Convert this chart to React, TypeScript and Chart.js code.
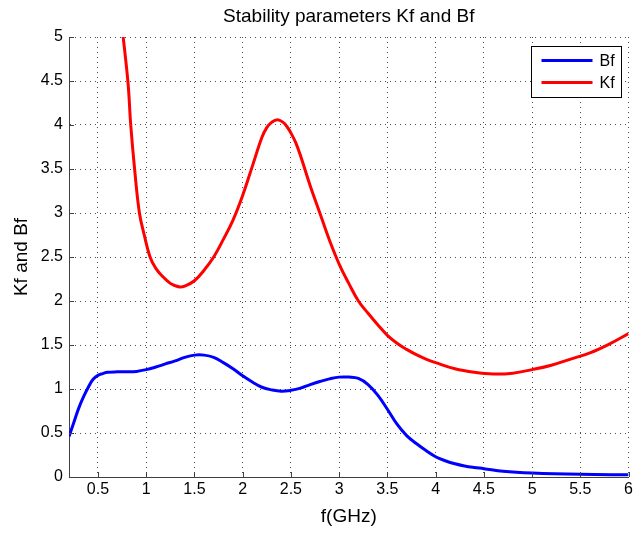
import React, { useEffect, useRef } from "react";
import { Chart, registerables } from "chart.js";

Chart.register(...registerables);

const chartTitle = "Stability parameters Kf and Bf";
const xAxisLabel = "f(GHz)";
const yAxisLabel = "Kf and Bf";
const xTicks = [0.5, 1, 1.5, 2, 2.5, 3, 3.5, 4, 4.5, 5, 5.5, 6];
const yTicks = [0, 0.5, 1, 1.5, 2, 2.5, 3, 3.5, 4, 4.5, 5];
const xMin = 0.2;
const xMax = 6;
const yMin = 0;
const yMax = 5;

const bfLabel = "Bf";
const bfFreq = [
  0.2, 0.25, 0.3, 0.35, 0.4, 0.45, 0.5, 0.55, 0.6, 0.7, 0.8, 0.9, 1.0, 1.1, 1.2, 1.3, 1.4, 1.5, 1.6,
  1.7, 1.8, 1.9, 2.0, 2.1, 2.2, 2.3, 2.4, 2.5, 2.6, 2.7, 2.8, 2.9, 3.0, 3.1, 3.2, 3.3, 3.4, 3.5, 3.6,
  3.7, 3.8, 3.9, 4.0, 4.1, 4.2, 4.3, 4.4, 4.5, 4.7, 5.0, 5.5, 6.0,
];
const bfValues = [
  0.46, 0.62, 0.78, 0.91, 1.02, 1.11, 1.155, 1.175, 1.19, 1.195, 1.195, 1.2, 1.22, 1.25, 1.285, 1.32,
  1.36, 1.385, 1.385, 1.36, 1.3, 1.23, 1.15, 1.08, 1.02, 0.99, 0.975, 0.985, 1.01, 1.05, 1.085, 1.115,
  1.135, 1.135, 1.12, 1.05, 0.93, 0.77, 0.6, 0.47, 0.38, 0.3, 0.23, 0.185, 0.15, 0.125, 0.108, 0.095,
  0.065, 0.045, 0.03, 0.025,
];

const kfLabel = "Kf";
const kfFreq = [
  0.73, 0.81, 0.84, 0.88, 0.93, 0.98, 1.04, 1.1, 1.17, 1.25, 1.3, 1.35, 1.4, 1.5, 1.6, 1.7, 1.8, 1.9,
  2.0, 2.1, 2.2, 2.25, 2.3, 2.36, 2.42, 2.46, 2.5, 2.55, 2.6, 2.7, 2.8, 2.9, 3.0, 3.1, 3.2, 3.3, 3.4,
  3.5, 3.6, 3.7, 3.8, 3.9, 4.0, 4.2, 4.4, 4.6, 4.8, 5.0, 5.2, 5.4, 5.6, 5.8, 6.0,
];
const kfValues = [
  5.3, 4.5, 4.0, 3.5, 3.0, 2.75, 2.5, 2.37, 2.28, 2.2, 2.175, 2.16, 2.17, 2.23, 2.35, 2.5, 2.7, 2.92,
  3.2, 3.53, 3.86, 3.97, 4.03, 4.06, 4.03, 3.98, 3.91, 3.8, 3.65, 3.31, 3.0, 2.69, 2.42, 2.2, 2.0, 1.86,
  1.73, 1.61, 1.52, 1.45, 1.39, 1.34, 1.3, 1.23, 1.19, 1.17, 1.18, 1.22, 1.27, 1.34, 1.41, 1.51, 1.63,
];

const FONT = '"Liberation Sans", Arial, Helvetica, sans-serif';

const decorPlugin = {
  id: "decor",
  afterDraw(chart: any) {
    const ctx = chart.ctx as CanvasRenderingContext2D;
    const area = chart.chartArea;
    const xs = chart.scales.x;
    const ys = chart.scales.y;
    ctx.save();
    // inward tick marks
    ctx.strokeStyle = "#404040";
    ctx.lineWidth = 1;
    ctx.beginPath();
    xTicks.forEach((v) => {
      const px = Math.round(xs.getPixelForValue(v)) + 0.5;
      ctx.moveTo(px, area.bottom);
      ctx.lineTo(px, area.bottom - 5);
    });
    yTicks.forEach((v) => {
      const py = Math.round(ys.getPixelForValue(v)) + 0.5;
      ctx.moveTo(area.left, py);
      ctx.lineTo(area.left + 5, py);
    });
    ctx.stroke();

    // title
    ctx.fillStyle = "#000";
    ctx.font = `19px ${FONT}`;
    ctx.textAlign = "center";
    ctx.textBaseline = "middle";
    ctx.fillText(chartTitle, (area.left + area.right) / 2, 17);

    // legend
    const bw = 90;
    const bh = 51;
    const bx = Math.round(area.right - 8 - bw) + 0.5;
    const by = Math.round(area.top + 9) + 0.5;
    ctx.fillStyle = "#fff";
    ctx.fillRect(bx, by, bw, bh);
    ctx.strokeStyle = "#000";
    ctx.lineWidth = 1;
    ctx.strokeRect(bx, by, bw, bh);
    ctx.font = `16px ${FONT}`;
    ctx.textAlign = "left";
    chart.data.datasets.forEach((ds: any, i: number) => {
      const ly = by + 14 + i * 22;
      ctx.strokeStyle = ds.borderColor;
      ctx.lineWidth = 3;
      ctx.beginPath();
      ctx.moveTo(bx + 10, ly);
      ctx.lineTo(bx + 61, ly);
      ctx.stroke();
      ctx.fillStyle = "#000";
      ctx.fillText(ds.label, bx + 68, ly + 1);
    });
    ctx.restore();
  },
};

export default function App() {
  const canvasRef = useRef<HTMLCanvasElement | null>(null);

  useEffect(() => {
    const canvas = canvasRef.current;
    if (!canvas) return;
    const chart = new Chart(canvas, {
      type: "line",
      data: {
        datasets: [
          {
            label: bfLabel,
            data: bfFreq.map((x, i) => ({ x, y: bfValues[i] })),
            borderColor: "#0000ff",
            backgroundColor: "#0000ff",
            borderWidth: 3,
            pointRadius: 0,
            tension: 0.4,
            clip: 0,
          },
          {
            label: kfLabel,
            data: kfFreq.map((x, i) => ({ x, y: kfValues[i] })),
            borderColor: "#ff0000",
            backgroundColor: "#ff0000",
            borderWidth: 3,
            pointRadius: 0,
            tension: 0.4,
            clip: 0,
          },
        ],
      },
      options: {
        animation: false,
        responsive: false,
        devicePixelRatio: 1,
        layout: { padding: { top: 37, right: 7, left: 0, bottom: 0 } },
        plugins: {
          legend: { display: false },
          title: { display: false },
          tooltip: { enabled: false },
        },
        scales: {
          x: {
            type: "linear",
            min: xMin,
            max: xMax,
            afterBuildTicks: (s: any) => {
              s.ticks = xTicks.map((v) => ({ value: v }));
            },
            afterFit: (s: any) => {
              s.height = 56;
            },
            ticks: {
              color: "#000",
              font: { family: FONT, size: 16 },
              padding: 3,
              maxRotation: 0,
              autoSkip: false,
              callback: (v: any) => String(v),
            },
            grid: {
              color: "rgba(0,0,0,0.7)",
              lineWidth: 1,
              drawTicks: false,
            },
            border: { display: true, color: "#404040", width: 1, dash: [1, 4] },
            title: {
              display: true,
              text: xAxisLabel,
              color: "#000",
              font: { family: FONT, size: 19, lineHeight: 1.2 },
              padding: { top: 0, bottom: 5 },
            },
          },
          y: {
            type: "linear",
            min: yMin,
            max: yMax,
            afterBuildTicks: (s: any) => {
              s.ticks = yTicks.map((v) => ({ value: v }));
            },
            afterFit: (s: any) => {
              s.width = 69;
            },
            ticks: {
              color: "#000",
              font: { family: FONT, size: 16 },
              padding: 6,
              autoSkip: false,
              callback: (v: any) => String(v),
            },
            grid: {
              color: "rgba(0,0,0,0.7)",
              lineWidth: 1,
              drawTicks: false,
            },
            border: { display: true, color: "#404040", width: 1, dash: [1, 4] },
            title: {
              display: true,
              text: yAxisLabel,
              color: "#000",
              font: { family: FONT, size: 19, lineHeight: 1.2 },
              padding: { top: 10, bottom: 0 },
            },
          },
        },
      },
      plugins: [decorPlugin],
    } as any);
    return () => chart.destroy();
  }, []);

  return (
    <div style={{ position: "absolute", left: 0, top: 0, width: 636, height: 533, background: "#fff" }}>
      <canvas ref={canvasRef} width={636} height={533} />
    </div>
  );
}
